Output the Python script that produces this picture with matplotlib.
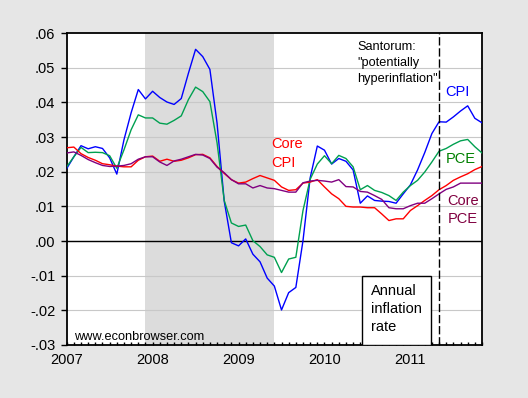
import matplotlib
matplotlib.use("Agg")
import matplotlib.pyplot as plt
from matplotlib.patches import Rectangle
from matplotlib.ticker import FixedLocator, MultipleLocator
from matplotlib import font_manager
import numpy as np

plt.rcParams['font.family'] = ['Liberation Sans', 'DejaVu Sans']

# monthly index: 0 = 2007M01 ... 58 = 2011M11
months = list(range(59))

cpi = [.0209, .0243, .0275, .0266, .0272, .0267, .0240, .0193, .0292, .0370,
       .0437, .0410, .0432, .0414, .0401, .0394, .0411, .0484, .0553, .0532,
       .0495, .0340, .0115, -.0005, -.0014, .0006, -.0038, -.0060, -.0107, -.0130,
       -.0199, -.0149, -.0134, .0001, .0182, .0274, .0262, .0222, .0238, .0230,
       .0205, .0109, .0130, .0117, .0115, .0114, .0109, .0136, .0162, .0205,
       .0255, .0310, .0344, .0343, .0358, .0375, .0390, .0354, .0341]

pce = [.0214, .0243, .0270, .0255, .0256, .0255, .0246, .0210, .0263, .0321,
       .0364, .0355, .0355, .0340, .0337, .0348, .0361, .0408, .0444, .0431,
       .0402, .0283, .0117, .0052, .0042, .0046, .0001, -.0016, -.0040, -.0047,
       -.0091, -.0052, -.0047, .0088, .0178, .0222, .0246, .0223, .0247, .0238,
       .0214, .0148, .0160, .0146, .0140, .0131, .0117, .0141, .0160, .0175,
       .0199, .0228, .0259, .0267, .0279, .0289, .0293, .0272, .0254]

core_cpi = [.0269, .0271, .0252, .0241, .0233, .0223, .0220, .0216, .0214, .0214,
            .0233, .0243, .0245, .0230, .0236, .0230, .0233, .0240, .0249, .0250,
            .0240, .0215, .0195, .0177, .0167, .0170, .0180, .0189, .0182, .0175,
            .0156, .0146, .0148, .0167, .0170, .0177, .0156, .0136, .0122, .0100,
            .0098, .0098, .0096, .0096, .0078, .0059, .0064, .0064, .0088, .0102,
            .0117, .0131, .0148, .0160, .0175, .0185, .0194, .0206, .0215]

core_pce = [.0254, .0257, .0247, .0235, .0226, .0218, .0215, .0216, .0218, .0223,
            .0236, .0243, .0243, .0228, .0218, .0231, .0236, .0243, .0250, .0248,
            .0238, .0213, .0197, .0177, .0165, .0165, .0153, .0160, .0153, .0151,
            .0146, .0141, .0141, .0168, .0173, .0175, .0173, .0170, .0177, .0157,
            .0156, .0143, .0141, .0131, .0120, .0096, .0093, .0093, .0102, .0109,
            .0109, .0122, .0136, .0149, .0156, .0167, .0167, .0167, .0167]

year_labels = ['2007', '2008', '2009', '2010', '2011']
year_pos = [0, 12, 24, 36, 48]
y_ticks = [-.03, -.02, -.01, .00, .01, .02, .03, .04, .05, .06]
y_labels = ['-.03', '-.02', '-.01', '.00', '.01', '.02', '.03', '.04', '.05', '.06']
recession = (11, 29)      # 2007M12 - 2009M06
santorum_month = 52       # 2011M05

installed = {f.name for f in font_manager.fontManager.ttflist}
if 'Liberation Sans Narrow' in installed:
    narrow = dict(family=['Liberation Sans Narrow', 'DejaVu Sans'], size=10.5)
else:
    narrow = dict(family=['Liberation Sans', 'DejaVu Sans'], size=9.2)

bg = '#e6e6e6'
fig = plt.figure(figsize=(5.28, 3.98), dpi=100, facecolor=bg)
ax = fig.add_axes([0.1263, 0.1332, 0.9129 - 0.1263, 0.917 - 0.1332])
ax.set_facecolor('white')

ax.axvspan(recession[0], recession[1], color='#dcdcdc', lw=0, zorder=0)
for v in y_ticks[1:-1]:
    ax.axhline(v, color='#c8c8c8', lw=0.8, zorder=1)
ax.axhline(0, color='black', lw=1.0, zorder=2)

ax.plot(months, cpi, color='#0000ff', lw=1.0, zorder=3)
ax.plot(months, pce, color='#00a050', lw=1.0, zorder=4)
ax.plot(months, core_cpi, color='#ff0000', lw=1.0, zorder=5)
ax.plot(months, core_pce, color='#800080', lw=1.0, zorder=6)

ax.axvline(santorum_month, color='black', lw=1.0, ls=(0, (6, 2)), zorder=7)

ax.set_xlim(0, 58)
ax.set_ylim(-0.03, 0.06)
ax.xaxis.set_major_locator(FixedLocator(year_pos))
ax.set_xticklabels(year_labels)
ax.xaxis.set_minor_locator(MultipleLocator(1))
ax.tick_params(axis='x', which='both', direction='in', length=2.5, width=1, pad=6,
               labelsize=10.5, top=False)
ax.set_yticks(y_ticks)
ax.set_yticklabels(y_labels)
ax.tick_params(axis='y', which='major', direction='out', length=4.3, width=1, pad=4,
               labelsize=10.5)
for s in ax.spines.values():
    s.set_linewidth(1.3)

fs = 10.5
ax.text(40.6, 0.0578, 'Santorum:\n"potentially\nhyperinflation"', ha='left', va='top',
        color='black', linespacing=1.45, zorder=8, **narrow)
ax.text(52.9, 0.0430, 'CPI', ha='left', va='center', fontsize=fs, color='#0000ff', zorder=8)
ax.text(52.9, 0.0236, 'PCE', ha='left', va='center', fontsize=fs, color='#008000', zorder=8)
ax.text(53.2, 0.0089, 'Core\nPCE', ha='left', va='center', fontsize=fs, color='#800040',
        linespacing=1.4, zorder=8)
ax.text(28.6, 0.0252, 'Core\nCPI', ha='left', va='center', fontsize=fs, color='#ff0000',
        linespacing=1.4, zorder=8)
ax.text(1.0, -0.0277, 'www.econbrowser.com', ha='left', va='center',
        color='black', zorder=8, **narrow)

ax.add_patch(Rectangle((41.3, -0.0299), 9.6, 0.0198, facecolor='white',
                       edgecolor='black', lw=1.0, zorder=8))
ax.text(42.46, -0.0196, 'Annual\ninflation\nrate', ha='left', va='center', fontsize=fs,
        color='black', linespacing=1.4, zorder=9)

fig.savefig('out.png', dpi=100, facecolor=bg)
